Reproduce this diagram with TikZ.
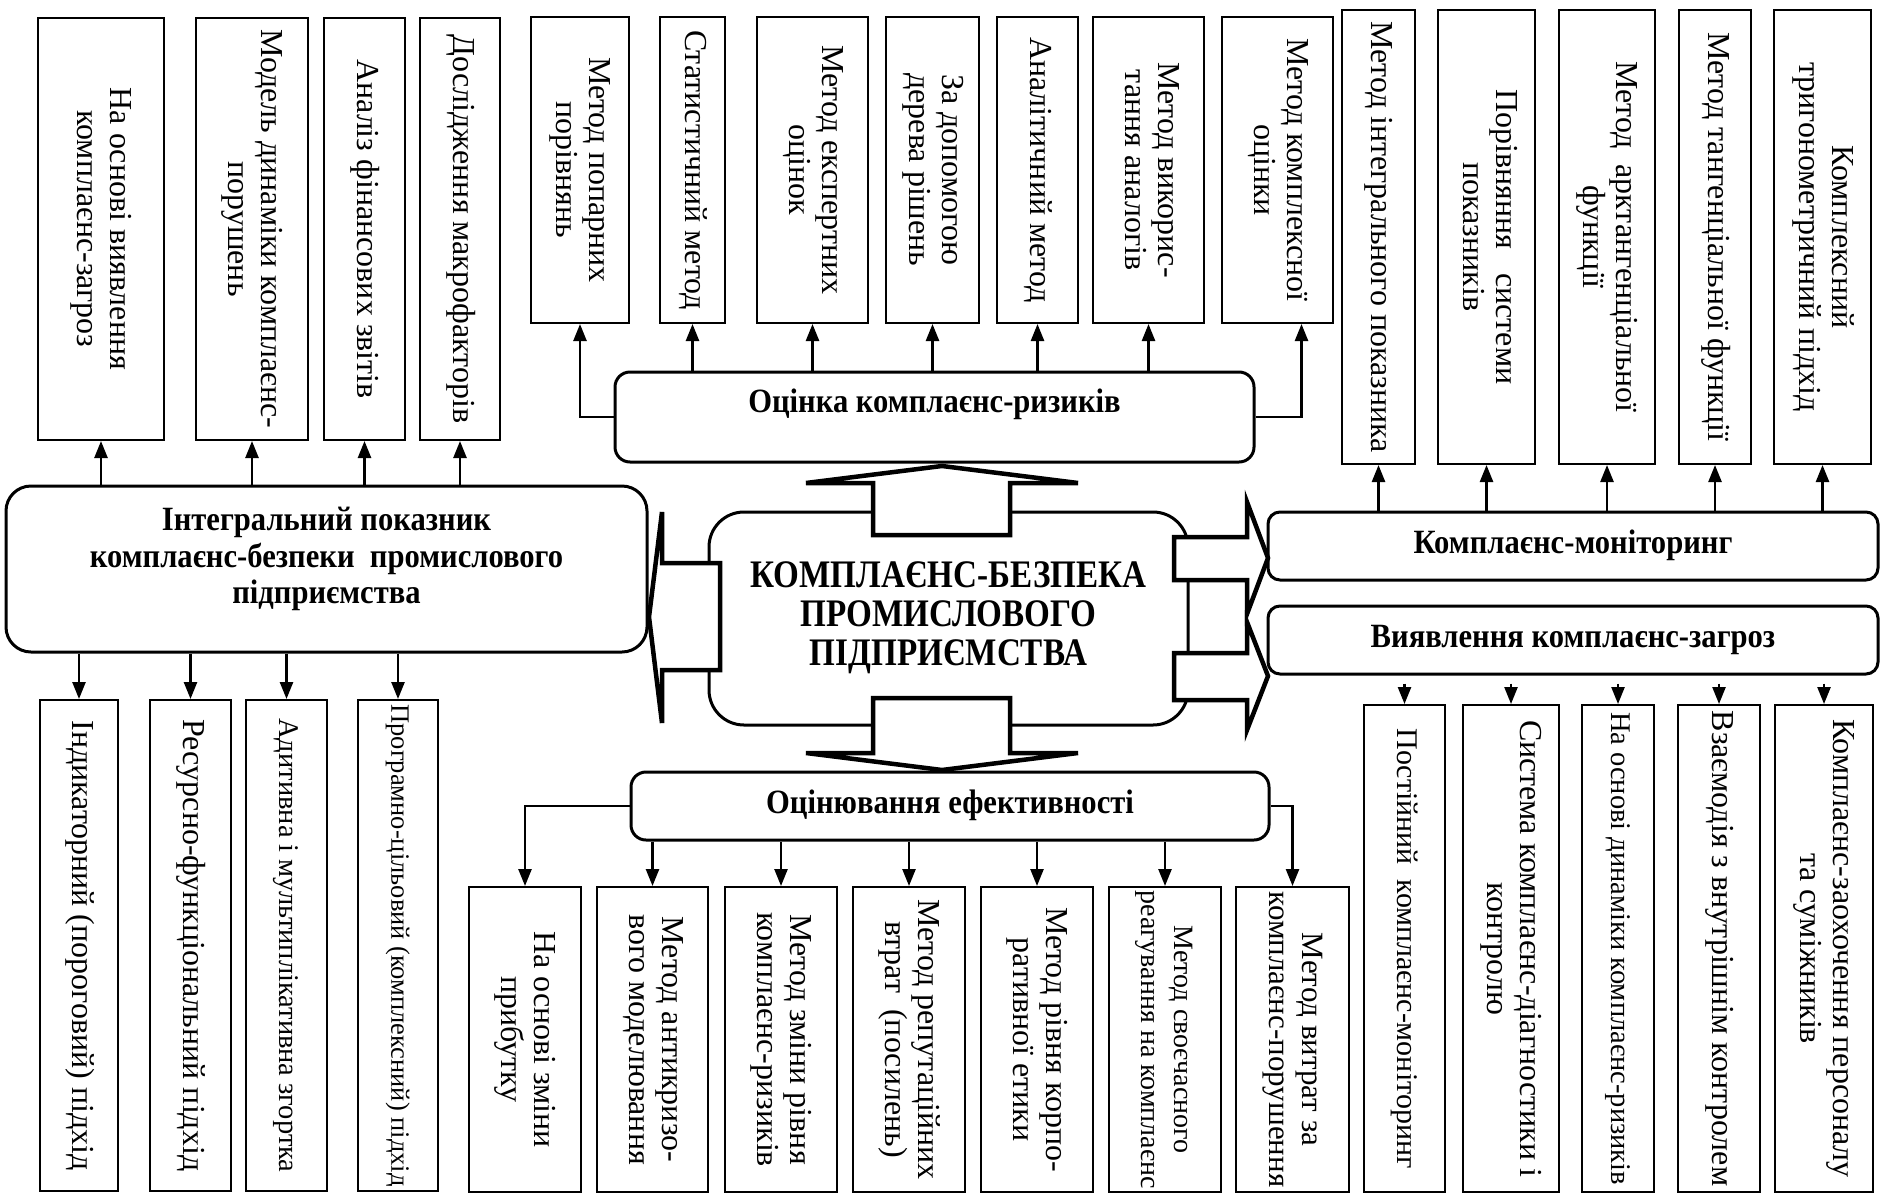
\documentclass[tikz,border=0pt]{standalone}
\usepackage{fontspec}
\setmainfont{Liberation Serif}
\usepackage{graphicx}
\usetikzlibrary{arrows.meta,calc}

\newcommand{\vt}[1]{\rotatebox{-90}{\begin{tabular}{@{}c@{}}#1\end{tabular}}}
\newcommand{\vfont}[1]{\fontsize{#1}{33}\selectfont}
\newcommand{\cond}[2][0.9]{\scalebox{#1}[1]{\begin{tabular}{@{}c@{}}#2\end{tabular}}}

\tikzset{
  btext/.style={font=\fontsize{34}{36.5}\selectfont\bfseries, align=center, inner sep=0pt},
  rbox/.style={draw, line width=3pt, rounded corners=#1, btext},
  vbox/.style={draw, line width=2pt, inner sep=0pt},
  conn/.style={line width=2.5pt, -{Triangle[length=17pt,width=13pt]}},
  blockarr/.style={line width=4.5pt, line join=miter},
}

\begin{document}
\begin{tikzpicture}[x=1pt, y=-1pt]
\useasboundingbox (0,0) rectangle (1881,1194);

% central block
\node[rbox=35pt, minimum width=479pt, minimum height=213pt, font=\fontsize{39}{39}\selectfont\bfseries] (core) at (948.5,618.5) {\cond[0.85]{КОМПЛАЄНС-БЕЗПЕКА\\ПРОМИСЛОВОГО\\ПІДПРИЄМСТВА}};

% main groups
\node[rbox=25pt, minimum width=641pt, minimum height=166pt] (intg) at (326.5,569) {};
\node[btext] (intglab) at (326.5,560) {\cond{Інтегральний показник\\комплаєнс-безпеки\ \ промислового\\підприємства}};
\node[rbox=15pt, minimum width=639pt, minimum height=90pt] (risk) at (934.5,417) {};
\node[btext] (risklab) at (934.5,405) {\cond{Оцінка комплаєнс-ризиків}};
\node[rbox=12pt, minimum width=610pt, minimum height=68pt] (mon) at (1573,546) {\cond{Комплаєнс-моніторинг}};
\node[rbox=12pt, minimum width=610pt, minimum height=68pt] (viav) at (1573,640) {\cond{Виявлення комплаєнс-загроз}};
\node[rbox=15pt, minimum width=638pt, minimum height=68pt] (eff) at (950,806) {\cond{Оцінювання ефективності}};

% top left
\foreach \n/\x/\w/\fs/\txt in {A1/101/126/32/{На основі виявлення\\комплаєнс-загроз},
    A2/252/112/32/{Модель динаміки комплаєнс-\\порушень},
    A3/364.5/81/32/{Аналіз фінансових звітів},
    A4/460/80/32/{Дослідження макрофакторів}}
  \node[vbox, minimum width=\w pt, minimum height=422pt, font=\vfont{\fs}] (\n) at (\x,229) {\vt{\txt}};

% bottom left
\foreach \n/\x/\w/\fs/\txt in {C1/79/78/32/{Індикаторний (пороговий) підхід},
    C2/190.5/81/32/{Ресурсно-функціональний підхід},
    C3/286.5/81/28.5/{Адитивна і мультиплікативна згортка},
    C4/398/80/26.5/{Програмно-цільовий (комплексний) підхід}}
  \node[vbox, minimum width=\w pt, minimum height=491pt, font=\vfont{\fs}] (\n) at (\x,945.5) {\vt{\txt}};

% top middle
\foreach \n/\x/\w/\fs/\txt in {B1/580/98/32/{Метод попарних\\порівнянь},
    B2/692.5/65/32/{Статистичний метод},
    B3/812.5/111/32/{Метод експертних\\оцінок},
    B4/932.5/93/32/{За допомогою\\дерева рішень},
    B5/1037.5/81/32/{Аналітичний метод},
    B6/1148.5/111/32/{Метод викорис-\\тання аналогів},
    B7/1277.5/111/32/{Метод комплексної\\оцінки}}
  \node[vbox, minimum width=\w pt, minimum height=306pt, font=\vfont{\fs}] (\n) at (\x,170) {\vt{\txt}};

% top right
\foreach \n/\x/\w/\fs/\txt in {D1/1378.5/73/32/{Метод інтегрального показника},
    D2/1486.5/97/32/{Порівняння\ \ \ системи\\показників},
    D3/1607/96/32/{Метод\ \ арктангенціальної\\функції},
    D4/1715/72/32/{Метод тангенціальної функції},
    D5/1822.5/97/32/{Комплексний\\тригонометричний підхід}}
  \node[vbox, minimum width=\w pt, minimum height=454pt, font=\vfont{\fs}] (\n) at (\x,237) {\vt{\txt}};

% bottom right
\foreach \n/\x/\w/\fs/\txt in {E1/1404.5/81/30/{Постійний\ \ комплаєнс-моніторинг},
    E2/1511/96/32/{Система комплаєнс-діагностики і\\контролю},
    E3/1618/72/28.5/{На основі динаміки комплаєнс-ризиків},
    E4/1719/82/32/{Взаємодія з внутрішнім контролем},
    E5/1824/98/32/{Комплаєнс-заохочення персоналу\\та суміжників}}
  \node[vbox, minimum width=\w pt, minimum height=487pt, font=\vfont{\fs}] (\n) at (\x,948.5) {\vt{\txt}};

% bottom middle
\foreach \n/\x/\w/\fs/\txt in {F1/525/112/32/{На основі зміни\\прибутку},
    F2/652.5/111/32/{Метод антикризо-\\вого моделювання},
    F3/781/112/32/{Метод зміни рівня\\комплаєнс-ризиків},
    F4/909/112/32/{Метод репутаційних\\втрат\ \ (посилень)},
    F5/1037/112/32/{Метод рівня корпо-\\ративної етики},
    F6/1165/112/28/{Метод своєчасного\\реагування на комплаєнс},
    F7/1292.5/113/31/{Метод витрат за\\комплаєнс-порушення}}
  \node[vbox, minimum width=\w pt, minimum height=305pt, font=\vfont{\fs}] (\n) at (\x,1039.5) {\vt{\txt}};

% connectors
\foreach \n in {A1,A2,A3,A4} \draw[conn] (intg.north -| \n.south) -- (\n.south);
\foreach \n in {C1,C2,C3,C4} \draw[conn] (intg.south -| \n.north) -- (\n.north);
\foreach \n in {B2,B3,B4,B5,B6} \draw[conn] (risk.north -| \n.south) -- (\n.south);
\draw[conn] (risk.west) -| (B1.south);
\draw[conn] (risk.east) -| ([xshift=24pt]B7.south);
\foreach \n in {D1,D2,D3,D4,D5} \draw[conn] (mon.north -| \n.south) -- (\n.south);
\foreach \n in {E1,E2,E3,E4,E5} \draw[conn, shorten <=8pt] (viav.south -| \n.north) -- (\n.north);
\foreach \n in {F2,F3,F4,F5,F6} \draw[conn] (eff.south -| \n.north) -- (\n.north);
\draw[conn] (eff.west) -| (F1.north);
\draw[conn] (eff.east) -| (F7.north);

% block arrows out of the core
\fill[white] (875,485) rectangle (1008,533);
\draw[blockarr] (873,535) -- (873,483) -- (806,483) -- (942,466) -- (1078,483) -- (1010,483) -- (1010,535) -- cycle;
\fill[white] (875,700) rectangle (1008,751);
\draw[blockarr] (873,698) -- (873,753) -- (806,753) -- (942,770) -- (1078,753) -- (1010,753) -- (1010,698) -- cycle;
\fill[white] (664,565) rectangle (718,668);
\draw[blockarr] (720,563) -- (662,563) -- (662,512) -- (649,617) -- (662,723) -- (662,670) -- (720,670) -- cycle;
\fill[white] (1176,539) rectangle (1245,578);
\draw[blockarr] (1174,537) -- (1247,537) -- (1247,502) -- (1268,558) -- (1247,614) -- (1247,580) -- (1174,580) -- cycle;
\fill[white] (1176,655) rectangle (1245,698);
\draw[blockarr] (1174,653) -- (1247,653) -- (1247,622) -- (1268,676) -- (1247,730) -- (1247,700) -- (1174,700) -- cycle;
\end{tikzpicture}
\end{document}
